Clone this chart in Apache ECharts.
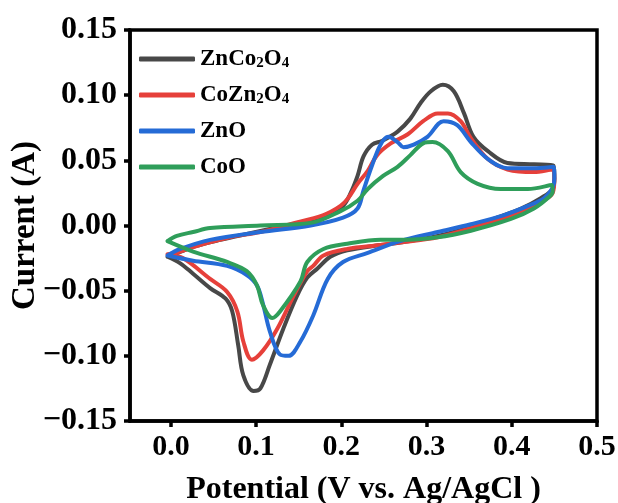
<!DOCTYPE html>
<html>
<head>
<meta charset="utf-8">
<title>Cyclic voltammetry</title>
<script src="https://cdn.jsdelivr.net/npm/echarts@6/dist/echarts.min.js"></script>
<style>
  html, body { margin: 0; padding: 0; background: #fff; }
  #chart { width: 618px; height: 503px; }
</style>
</head>
<body>
<div id="chart"></div>
<script>
// Cyclic voltammograms: [potential (V vs. Ag/AgCl), current (A)], each a closed loop
const seriesNames = ['ZnCo2O4', 'CoZn2O4', 'ZnO', 'CoO'];
const legendLabels = ['ZnCo{s|2}O{s|4}', 'CoZn{s|2}O{s|4}', 'ZnO', 'CoO'];
const seriesColors = ['#484848', '#e6403a', '#256bd6', '#2f9e5a'];

const znco2o4 = [
  [-0.004,-0.024],[0.008,-0.021],[0.028,-0.016],[0.058,-0.011],[0.093,-0.006],[0.128,-0.001],
  [0.164,0.004],[0.187,0.008],[0.202,0.015],[0.211,0.025],[0.219,0.038],[0.226,0.053],
  [0.236,0.062],[0.248,0.065],[0.266,0.072],[0.281,0.082],[0.293,0.094],[0.305,0.103],
  [0.319,0.108],[0.332,0.103],[0.344,0.086],[0.355,0.068],[0.372,0.057],[0.395,0.048],
  [0.426,0.047],[0.449,0.046],[0.450,0.036],[0.448,0.028],
  [0.434,0.021],[0.411,0.013],[0.387,0.007],[0.352,-0.001],[0.313,-0.008],[0.269,-0.013],
  [0.246,-0.015],[0.207,-0.019],[0.187,-0.024],[0.172,-0.033],[0.160,-0.040],[0.148,-0.054],
  [0.132,-0.079],[0.116,-0.107],[0.105,-0.125],[0.097,-0.127],[0.085,-0.115],[0.079,-0.092],
  [0.072,-0.066],[0.064,-0.056],[0.046,-0.048],[0.026,-0.037],[0.011,-0.029],[-0.004,-0.024]
];

const cozn2o4 = [
  [-0.004,-0.022],[0.011,-0.020],[0.034,-0.015],[0.069,-0.009],[0.105,-0.005],[0.140,0.001],
  [0.179,0.008],[0.199,0.015],[0.208,0.021],[0.219,0.032],[0.231,0.042],[0.242,0.054],
  [0.258,0.063],[0.278,0.070],[0.296,0.080],[0.313,0.086],[0.325,0.086],[0.340,0.080],
  [0.352,0.067],[0.372,0.051],[0.395,0.043],[0.426,0.041],[0.448,0.043],[0.450,0.036],
  [0.448,0.025],
  [0.434,0.018],[0.411,0.011],[0.387,0.005],[0.352,-0.002],[0.313,-0.009],[0.269,-0.013],
  [0.246,-0.015],[0.207,-0.018],[0.179,-0.023],[0.167,-0.031],[0.160,-0.035],[0.144,-0.054],
  [0.125,-0.079],[0.108,-0.096],[0.095,-0.103],[0.085,-0.089],[0.078,-0.066],[0.066,-0.051],
  [0.046,-0.041],[0.014,-0.025],[-0.004,-0.022]
];

const zno = [
  [-0.004,-0.023],[0.011,-0.018],[0.046,-0.011],[0.105,-0.005],[0.164,0.000],[0.202,0.006],
  [0.219,0.013],[0.226,0.027],[0.236,0.046],[0.246,0.062],[0.255,0.068],[0.266,0.064],
  [0.273,0.060],[0.285,0.062],[0.301,0.068],[0.320,0.080],[0.336,0.077],[0.352,0.064],
  [0.372,0.051],[0.395,0.044],[0.426,0.044],[0.449,0.045],[0.450,0.036],[0.448,0.029],
  [0.438,0.021],[0.419,0.015],[0.391,0.008],[0.352,0.001],[0.313,-0.005],[0.269,-0.012],
  [0.231,-0.021],[0.202,-0.028],[0.184,-0.041],[0.167,-0.069],[0.152,-0.089],[0.138,-0.100],
  [0.128,-0.099],[0.116,-0.081],[0.108,-0.060],[0.101,-0.046],[0.089,-0.038],[0.066,-0.031],
  [0.026,-0.027],[-0.004,-0.023]
];

const coo = [
  [-0.004,-0.012],[0.007,-0.008],[0.026,-0.005],[0.046,-0.002],[0.105,0.000],[0.164,0.002],
  [0.199,0.011],[0.219,0.019],[0.231,0.028],[0.249,0.038],[0.266,0.045],[0.281,0.054],
  [0.296,0.063],[0.307,0.064],[0.325,0.057],[0.340,0.041],[0.360,0.032],[0.387,0.028],
  [0.419,0.028],[0.447,0.031],[0.448,0.026],
  [0.444,0.022],[0.426,0.013],[0.399,0.005],[0.352,-0.004],[0.313,-0.009],[0.269,-0.011],
  [0.246,-0.011],[0.207,-0.014],[0.179,-0.018],[0.160,-0.028],[0.152,-0.043],[0.128,-0.066],
  [0.119,-0.071],[0.108,-0.061],[0.101,-0.046],[0.089,-0.035],[0.066,-0.028],[0.026,-0.020],
  [-0.004,-0.012]
];

const curves = [znco2o4, cozn2o4, zno, coo];

// Axis ranges and tick labels
const xMin = -0.048, xMax = 0.5;
const xTicks = [0.0, 0.1, 0.2, 0.3, 0.4, 0.5];
const yMin = -0.15, yMax = 0.15, yStep = 0.05;

const serif = "'Liberation Serif', 'Times New Roman', serif";

const chart = echarts.init(document.getElementById('chart'), null, { renderer: 'canvas' });

const labelMap = {};
seriesNames.forEach((n, i) => { labelMap[n] = legendLabels[i]; });

chart.setOption({
  animation: false,
  backgroundColor: '#ffffff',
  grid: {
    left: 130, right: 21, top: 30, bottom: 82,
    outerBoundsMode: 'none', containLabel: false,
    show: true, borderColor: '#000', borderWidth: 3.5, backgroundColor: 'transparent'
  },
  legend: {
    data: seriesNames,
    orient: 'vertical',
    left: 139, top: 47, padding: 0,
    itemWidth: 56, itemHeight: 5, itemGap: 12,
    icon: 'roundRect',
    formatter: n => labelMap[n],
    textStyle: {
      fontFamily: serif, fontWeight: 'bold', fontSize: 23, color: '#000', lineHeight: 24,
      rich: {
        s: { fontFamily: serif, fontWeight: 'bold', fontSize: 15, color: '#000',
             lineHeight: 6, verticalAlign: 'bottom' }
      }
    }
  },
  xAxis: {
    type: 'value', min: xMin, max: xMax,
    name: 'Potential (V vs. Ag/AgCl )',
    nameLocation: 'middle', nameGap: 53, nameMoveOverlap: false,
    nameTextStyle: { fontFamily: serif, fontWeight: 'bold', fontSize: 32, color: '#000' },
    axisLine: { show: true, onZero: false, lineStyle: { color: '#000', width: 3.5 } },
    axisTick: { show: true, inside: false, length: 6, customValues: xTicks,
                lineStyle: { color: '#000', width: 3.5 } },
    axisLabel: { customValues: xTicks, margin: 11, fontFamily: serif, fontWeight: 'bold',
                 fontSize: 30, color: '#000', formatter: v => Number(v).toFixed(1) },
    splitLine: { show: false }
  },
  yAxis: {
    type: 'value', min: yMin, max: yMax, interval: yStep,
    name: 'Current (A)',
    nameLocation: 'middle', nameGap: 88, nameRotate: 90, nameMoveOverlap: false,
    nameTextStyle: { fontFamily: serif, fontWeight: 'bold', fontSize: 33, color: '#000' },
    axisLine: { show: true, onZero: false, lineStyle: { color: '#000', width: 3.5 } },
    axisTick: { show: true, inside: false, length: 6, lineStyle: { color: '#000', width: 3.5 } },
    axisLabel: {
      margin: 13, fontFamily: serif, fontWeight: 'bold', fontSize: 32, color: '#000',
      formatter: v => {
        const r = Math.round(v * 100) / 100;
        return (r < 0 ? '\u2212' : '') + Math.abs(r).toFixed(2);
      }
    },
    splitLine: { show: false }
  },
  series: curves.map((d, i) => ({
    name: seriesNames[i],
    type: 'line',
    data: d,
    smooth: 0.35,
    symbol: 'none',
    color: seriesColors[i],
    lineStyle: { color: seriesColors[i], width: 4, cap: 'round', join: 'round' },
    z: 2 + i
  }))
});
</script>
</body>
</html>
